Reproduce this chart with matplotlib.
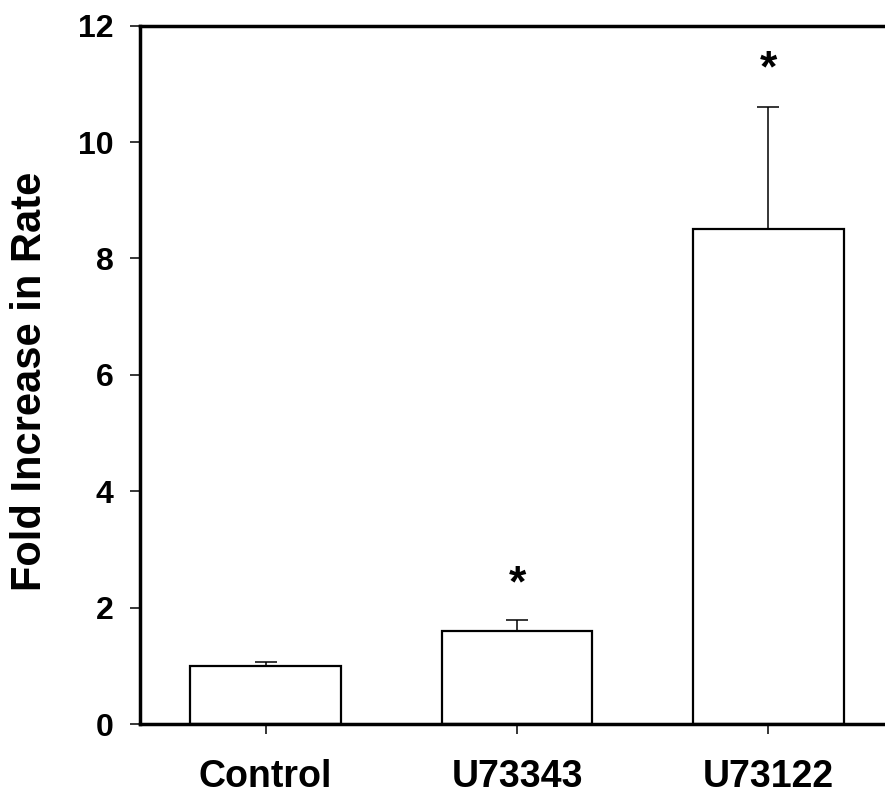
import numpy as np
import matplotlib.pyplot as plt

# Fold increase per treatment, mean and upper error
groups = ["Control", "U73343", "U73122"]
fold = [1.0, 1.6, 8.5]
err = [0.07, 0.18, 2.1]
star_y = [None, 2.2, 11.05]

plt.rcParams['font.family'] = ['Liberation Sans', 'DejaVu Sans']
plt.rcParams['font.weight'] = 'bold'

fig = plt.figure(figsize=(8.85, 7.93), dpi=100)
ax = fig.add_axes([0.1582, 0.087, 0.852, 0.8806])

x = np.arange(len(groups))
ax.bar(x, fold, width=0.6, color="white", edgecolor="black", linewidth=1.6, zorder=2)
ax.errorbar(x, fold, yerr=[np.zeros(len(err)), err], fmt="none", ecolor="black",
            elinewidth=1.1, capsize=8, capthick=1.1, zorder=1)

# significance marks
for xi, sy in zip(x, star_y):
    if sy is not None:
        ax.text(xi, sy, "*", ha="center", va="baseline", fontsize=32, fontweight="bold")

ax.set_xlim(-0.5, 2.5)
ax.set_ylim(0, 12)
ax.set_yticks([0, 2, 4, 6, 8, 10, 12])
ax.set_xticks(x)
ax.set_xticklabels(groups, fontsize=27, fontweight="bold")
ax.tick_params(axis="y", labelsize=23, direction="out", length=7, width=1.1, pad=12)
ax.tick_params(axis="x", direction="out", length=7, width=1.1, pad=18)
for lbl in ax.get_yticklabels():
    lbl.set_fontweight("bold")

for s in ax.spines.values():
    s.set_linewidth(2.5)

ax.set_ylabel("Fold Increase in Rate", fontsize=30, fontweight="bold")
ax.yaxis.set_label_coords(-0.12, 0.49)

fig.savefig("out.png", dpi=100)
